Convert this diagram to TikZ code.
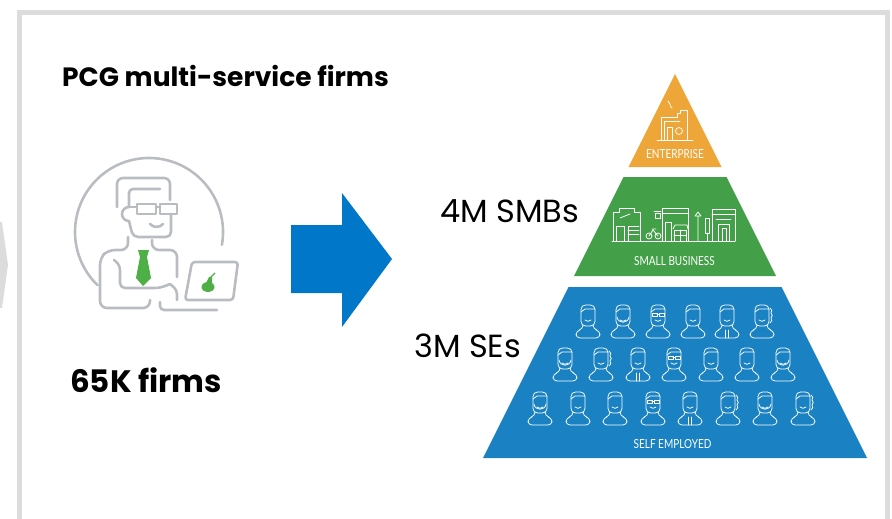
\documentclass[tikz,border=0pt]{standalone}
\usepackage{fontspec}
\setmainfont{Poppins}
\newfontfamily\tierfont{Lato}[FakeStretch=0.8]
\definecolor{framegrey}{HTML}{DCDCDC}
\definecolor{icongrey}{HTML}{B9BDC1}
\definecolor{tiegreen}{HTML}{4DAF45}
\definecolor{arrowblue}{HTML}{0077C8}
\definecolor{entorange}{HTML}{EFA638}
\definecolor{smbgreen}{HTML}{44A048}
\definecolor{seblue}{HTML}{1A82C2}
\tikzset{
  icon/.style={draw=icongrey, line width=2.6pt, line cap=round, line join=round},
  glyph/.style={draw=white, line width=0.75pt, line cap=round, line join=round},
  tierlabel/.style={font=\tierfont\fontsize{12.5}{12.5}\selectfont, text=white, inner sep=0pt, anchor=base},
  count/.style={font=\fontsize{32}{32}\selectfont, inner sep=0pt, anchor=base west},
  pics/face/.style={code={
    \draw[glyph, rounded corners=4.5] (-7,-5) rectangle (7,16);
    \draw[glyph] (-7,9) -- (-3,12) -- (7,12);
    \draw[glyph] (-3,1) to[bend right=50] (3,1);
    \draw[glyph, rounded corners=4] (-5,-5) -- (-5,-8) -- (-12,-10) -- (-12,-17) -- (12,-17) -- (12,-10) -- (5,-8) -- (5,-5);
    \ifcase#1\relax
    \or \draw[glyph] (-6,5) rectangle (-1,8) (1,5) rectangle (6,8) (-1,6.5) -- (1,6.5);
    \or \draw[glyph] (-6,4) .. controls (-5,-3) and (5,-3) .. (6,4);
    \or \draw[glyph] (8,13) to[bend left=60] (9,8) to[bend left=60] (9,3) to[bend left=60] (8,-2);
    \or \draw[glyph] (-1.5,-9) -- (-1.5,-17) (1.5,-9) -- (1.5,-17);
    \fi
  }}
}
\begin{document}
\begin{tikzpicture}[x=1pt, y=1pt]
\useasboundingbox (0,0) rectangle (892,-519);
% frame and the neighbouring panel
\fill[framegrey] (0,-222) -- (2,-222) -- (8,-265) -- (2,-308) -- (0,-308) -- cycle;
\draw[framegrey, line width=5pt] (19,-522) -- (19,-13) -- (887,-13) -- (887,-522);
\node[font=\bfseries\fontsize{26.5}{26.5}\selectfont, inner sep=0pt, anchor=base west] (title) at (62,-86) {PCG multi-service firms};

% accountant at the laptop
\begin{scope}
\draw[icon] (149,-232) ++(-10:74) arc[start angle=-10, end angle=226, radius=74];
\draw[icon, rounded corners=6] (117,-207) -- (117,-178) -- (170,-178) -- (170,-200);
\draw[icon, rounded corners=4] (129,-207) -- (129,-189) -- (160,-189);
\draw[icon] (129,-207) arc[start angle=90, end angle=270, radius=7];
\draw[icon, rounded corners=5] (129,-221) -- (133,-237) -- (171,-237) -- (171,-214);
\draw[icon] (137,-204) rectangle (156,-214) (160,-204) rectangle (177,-214) (156,-207) -- (160,-207) (129,-207) -- (137,-207);
\draw[icon] (150,-224) to[bend right=50] (163,-224);
\draw[icon, rounded corners=7] (128,-237) -- (128,-250) -- (108,-250) -- (100,-258) -- (100,-308) -- (150,-308) -- (150,-300);
\draw[icon, rounded corners=7] (152,-240) -- (152,-250) -- (177,-250) -- (177,-277);
\draw[icon, rounded corners=5] (114,-260) -- (120,-265) -- (120,-288) -- (160,-288) -- (170,-284);
\draw[icon, rounded corners=4] (170,-284) -- (177,-290) -- (177,-300);
\draw[icon, rounded corners=4] (160,-302) -- (160,-310) -- (217,-310);
\draw[icon, rounded corners=3] (192,-262) -- (238,-262) -- (233,-300) -- (185,-300) -- cycle;
\fill[tiegreen] (138,-250) -- (149,-250) -- (147,-257) -- (151,-278) -- (143,-286) -- (136,-278) -- (140,-257) -- cycle;
\fill[tiegreen] (208,-287) ellipse[x radius=6.5, y radius=5];
\fill[tiegreen] (205,-285) -- (209,-277) -- (212,-277) -- (212,-285) -- cycle;
\draw[tiegreen, line width=1.2pt] (210,-278) -- (215,-273);
\end{scope}
\node[font=\bfseries\fontsize{31}{31}\selectfont, inner sep=0pt, anchor=base west] (firms) at (70,-392) {65K firms};

% arrow
\fill[arrowblue] (291,-225) -- (342,-225) -- (342,-193) -- (392,-259) -- (342,-327) -- (342,-293) -- (291,-293) -- cycle;

% pyramid tiers
\fill[entorange] (675,-74) -- (721.5,-167) -- (628.5,-167) -- cycle;
\fill[smbgreen] (623.5,-177) -- (726.5,-177) -- (776,-276) -- (574,-276) -- cycle;
\fill[seblue] (568.5,-287) -- (781.5,-287) -- (867,-458) -- (483,-458) -- cycle;

% factory
\begin{scope}
\draw[glyph] (657,-140) -- (693,-140);
\draw[glyph] (661,-140) -- (661,-117) -- (677,-117) -- (677,-113) -- (680,-113) -- (680,-110) -- (687,-110) -- (687,-140);
\draw[glyph] (664,-140) -- (664,-121) -- (680,-121) (667,-140) -- (667,-127) -- (672,-127) -- (672,-140);
\draw[glyph] (679,-131) circle[radius=3.5];
\draw[glyph] (668,-101) to[bend left] (670,-104) to[bend right] (672,-108);
\end{scope}

% street of shops
\begin{scope}
\draw[glyph] (612,-241) -- (735,-241);
\draw[glyph] (613,-241) -- (613,-212) -- (619,-212) -- (619,-208) -- (634,-208) -- (634,-212) -- (640,-212) -- (640,-241);
\draw[glyph] (628,-241) -- (628,-226) -- (639,-226) (628,-230) -- (639,-230) (628,-234) -- (639,-234) (616,-241) -- (616,-226) -- (624,-226) -- (624,-241);
\draw[glyph] (620,-218) -- (630,-214);
\draw[glyph] (649,-236) circle[radius=3] (658,-236) circle[radius=3] (649,-236) -- (653,-230) -- (658,-236) (652,-229) -- (656,-229);
\draw[glyph] (662,-241) -- (662,-208) -- (688,-208) -- (688,-241) (662,-213) -- (688,-213);
\draw[glyph] (665,-241) -- (665,-222) -- (671,-222) -- (671,-241);
\draw[glyph] (674,-230) -- (686,-230) -- (686,-241) -- (674,-241) -- cycle (680,-230) -- (680,-241) (674,-235) -- (686,-235);
\draw[glyph] (673,-229) -- (675,-225) -- (687,-225) -- (688,-229);
\draw[glyph] (654,-211) -- (661,-211) (655,-213) rectangle (660,-218);
\draw[glyph] (698,-241) -- (698,-216) (695,-216) -- (698,-212) -- (701,-216) -- cycle;
\draw[glyph] (705,-218) rectangle (709,-233) (707,-233) -- (707,-241);
\draw[glyph] (712,-241) -- (712,-209) -- (735,-209) -- (735,-241) (712,-214) -- (735,-214);
\draw[glyph] (718,-241) -- (718,-224) -- (729,-224) -- (729,-241) (722,-241) -- (722,-228) -- (726,-228) -- (726,-241) (716,-219) -- (731,-219);
\end{scope}

% self-employed crowd
\foreach \x/\v in {588/0, 623/2, 658/1, 693/0, 727/4, 762/3}
  \pic at (\x,-321) {face=\v};
\foreach \x/\v in {565/2, 601/3, 638/4, 674/1, 711/0, 747/0, 783/2}
  \pic at (\x,-364) {face=\v};
\foreach \x/\v in {540/2, 578/0, 615/0, 653/1, 690/4, 728/3, 765/2, 803/3}
  \pic at (\x,-408) {face=\v};

% tier labels
\node[tierlabel] (ent) at (675,-158) {ENTERPRISE};
\node[tierlabel] (smb) at (674.5,-265) {SMALL BUSINESS};
\node[tierlabel] (se) at (672.5,-448) {SELF EMPLOYED};
\node[count] (smbcount) at (440,-222) {4M SMBs};
\node[count] (secount) at (414,-357) {3M SEs};
\end{tikzpicture}
\end{document}
